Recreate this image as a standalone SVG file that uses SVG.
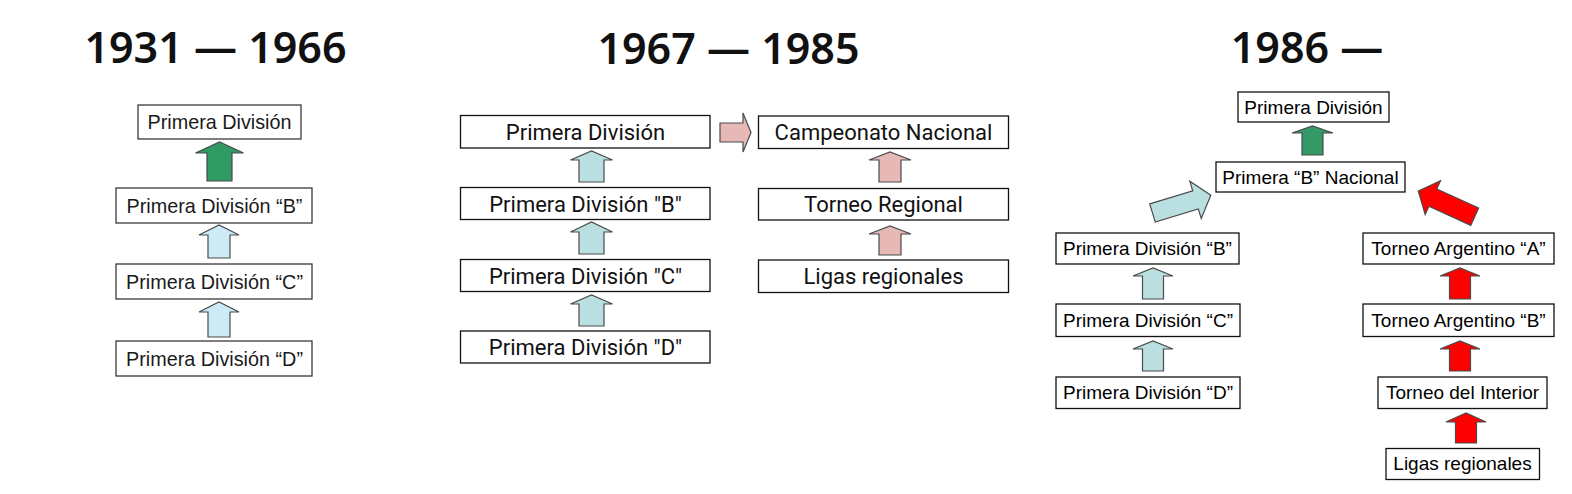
<svg xmlns="http://www.w3.org/2000/svg" width="1572" height="494" viewBox="0 0 1572 494">
<style>
.bg{fill:#ffffff}
.title{font-family:"Noto Sans","Open Sans",sans-serif;font-weight:600;font-size:43px;fill:#111111;text-anchor:middle}
.box1{fill:#ffffff;stroke:#3a3a3a;stroke-width:1.3}
.box2{fill:#ffffff;stroke:#111111;stroke-width:1.3}
.box3{fill:#ffffff;stroke:#111111;stroke-width:1.3}
.t1{font-family:"Liberation Sans",Arial,sans-serif;font-size:19.8px;fill:#1a1a1a;text-anchor:middle}
.t2{font-family:Roboto,"Liberation Sans",sans-serif;font-size:22px;fill:#111111;text-anchor:middle}
.t3{font-family:"Liberation Sans",Arial,sans-serif;font-size:19px;fill:#000000;text-anchor:middle}
.ar{stroke:#4a4a4a;stroke-width:1.2;stroke-linejoin:miter}
.green{fill:#2f9a62}
.sky{fill:#cdebf6}
.teal{fill:#b9dfe0}
.pink{fill:#e6b9b7}
.red{fill:#ff0000}
</style>
<rect class="bg" x="0" y="0" width="1572" height="494"/>

<g id="titles">
<text class="title" x="215.5" y="63">1931 — 1966</text>
<text class="title" x="728.5" y="64">1967 — 1985</text>
<text class="title" x="1307" y="63">1986 —</text>
</g>

<!-- Panel 1 -->
<g id="p1-primera">
<rect class="box1" x="138" y="105" width="163" height="34"/>
<text class="t1" x="219.5" y="129">Primera División</text>
</g>
<g id="p1-b">
<rect class="box1" x="116" y="188" width="196" height="35"/>
<text class="t1" x="214.5" y="212.5">Primera División “B”</text>
</g>
<g id="p1-c">
<rect class="box1" x="116" y="264" width="196" height="35"/>
<text class="t1" x="214.5" y="288.5">Primera División “C”</text>
</g>
<g id="p1-d">
<rect class="box1" x="116" y="341" width="196" height="35"/>
<text class="t1" x="214.5" y="365.5">Primera División “D”</text>
</g>

<!-- Panel 2 -->
<g id="p2-primera">
<rect class="box2" x="460.5" y="115.5" width="249.5" height="32.5"/>
<text class="t2" x="585.5" y="139.5">Primera División</text>
</g>
<g id="p2-b">
<rect class="box2" x="460.5" y="187.5" width="249.5" height="32"/>
<text class="t2" x="585.5" y="211.5">Primera División "B"</text>
</g>
<g id="p2-c">
<rect class="box2" x="460.5" y="259.5" width="249.5" height="32"/>
<text class="t2" x="585.5" y="283.5">Primera División "C"</text>
</g>
<g id="p2-d">
<rect class="box2" x="460.5" y="331" width="249.5" height="32"/>
<text class="t2" x="585.5" y="355">Primera División "D"</text>
</g>
<g id="p2-campeonato">
<rect class="box2" x="758.5" y="116" width="250" height="32.5"/>
<text class="t2" x="883.5" y="140">Campeonato Nacional</text>
</g>
<g id="p2-torneo">
<rect class="box2" x="758.5" y="188.5" width="250" height="31.5"/>
<text class="t2" x="883.5" y="212">Torneo Regional</text>
</g>
<g id="p2-ligas">
<rect class="box2" x="758.5" y="260" width="250" height="32.5"/>
<text class="t2" x="883.5" y="284">Ligas regionales</text>
</g>

<!-- Panel 3 -->
<g id="p3-primera">
<rect class="box3" x="1238" y="92" width="151" height="30"/>
<text class="t3" x="1313.5" y="113.5">Primera División</text>
</g>
<g id="p3-bnacional">
<rect class="box3" x="1216" y="162" width="189" height="30"/>
<text class="t3" x="1310.5" y="183.5">Primera “B” Nacional</text>
</g>
<g id="p3-b">
<rect class="box3" x="1056" y="233" width="183" height="31"/>
<text class="t3" x="1147.5" y="255">Primera División “B”</text>
</g>
<g id="p3-c">
<rect class="box3" x="1056" y="304" width="184" height="32.5"/>
<text class="t3" x="1148" y="326.5">Primera División “C”</text>
</g>
<g id="p3-d">
<rect class="box3" x="1056" y="377" width="184" height="31.5"/>
<text class="t3" x="1148" y="399">Primera División “D”</text>
</g>
<g id="p3-ta-a">
<rect class="box3" x="1363" y="233" width="191" height="31"/>
<text class="t3" x="1458.5" y="255">Torneo Argentino “A”</text>
</g>
<g id="p3-ta-b">
<rect class="box3" x="1363" y="304" width="191" height="32.5"/>
<text class="t3" x="1458.5" y="326.5">Torneo Argentino “B”</text>
</g>
<g id="p3-interior">
<rect class="box3" x="1378" y="377" width="169" height="31.5"/>
<text class="t3" x="1462.5" y="399">Torneo del Interior</text>
</g>
<g id="p3-ligas">
<rect class="box3" x="1386" y="448.5" width="153.5" height="31"/>
<text class="t3" x="1462.5" y="470">Ligas regionales</text>
</g>

<g id="connectors">
<!-- panel 1 -->
<polygon class="ar green" points="207,181 207,153 195.5,153 219.5,142 243.5,153 232,153 232,181"/>
<polygon class="ar sky" points="208,258 208,235 199,235 219,225 239,235 230,235 230,258"/>
<polygon class="ar sky" points="208,337 208,312 199,312 219,302 239,312 230,312 230,337"/>
<!-- panel 2 -->
<polygon class="ar teal" points="579,182 579,160 570.5,160 591.5,151 612.5,160 604,160 604,182"/>
<polygon class="ar teal" points="579,254 579,232 570.5,232 591.5,222 612.5,232 604,232 604,254"/>
<polygon class="ar teal" points="579,326 579,304 570.5,304 591.5,295 612.5,304 604,304 604,326"/>
<polygon class="ar pink" points="879,182 879,160 869,160 890,152 911,160 901,160 901,182"/>
<polygon class="ar pink" points="879,255 879,234 869,234 890,226 911,234 901,234 901,255"/>
<polygon class="ar pink" points="720,123 743,123 743,113 751,132.5 743,152 743,142 720,142"/>
<!-- panel 3 -->
<polygon class="ar" fill="#339966" points="1302,155 1302,133 1292,133 1312.5,126 1333,133 1323,133 1323,155"/>
<polygon class="ar teal" points="1142.5,299 1142.5,276 1133,276 1153,268 1173,276 1163.5,276 1163.5,299"/>
<polygon class="ar teal" points="1142.5,371 1142.5,349 1133,349 1153,341 1173,349 1163.5,349 1163.5,371"/>
<polygon class="ar teal" transform="translate(1152.5,213) rotate(-17)" points="0,-9.5 45,-9.5 45,-19.5 61,0 45,19.5 45,9.5 0,9.5"/>
<polygon class="ar red" points="1449.5,299 1449.5,276 1440,276 1460,268 1480,276 1470.5,276 1470.5,299"/>
<polygon class="ar red" points="1449.5,371 1449.5,349 1440,349 1460,341 1480,349 1470.5,349 1470.5,371"/>
<polygon class="ar red" points="1455.5,443 1455.5,422 1446,422 1466,413 1486,422 1476.5,422 1476.5,443"/>
<polygon class="ar red" transform="translate(1474.7,216.7) rotate(-155.5)" points="0,-9.5 46,-9.5 46,-18.5 62,0 46,18.5 46,9.5 0,9.5"/>
</g>
</svg>
